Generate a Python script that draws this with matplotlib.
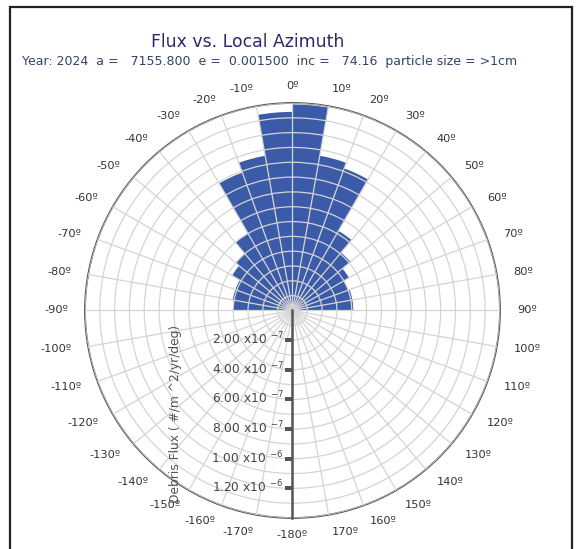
import numpy as np
import matplotlib as mpl
mpl.use('Agg')
from matplotlib import pyplot as plt
from matplotlib import transforms
from matplotlib.patches import Rectangle

# azimuth bins (left edge, deg) and debris flux per bin (#/m^2/yr/deg)
bin_start = [-90, -80, -70, -60, -50, -40, -30, -20, -10,
             0, 10, 20, 30, 40, 50, 60, 70, 80]
flux = [4.0e-7, 4.1e-7, 4.1e-7, 4.7e-7, 5.0e-7, 6.0e-7, 9.9e-7, 10.6e-7, 13.4e-7,
        13.9e-7, 10.6e-7, 10.2e-7, 6.2e-7, 5.1e-7, 4.4e-7, 4.0e-7, 4.1e-7, 4.1e-7]

az_ticks = list(range(-180, 180, 10))
r_ticks = [2e-7, 4e-7, 6e-7, 8e-7, 1e-6, 1.2e-6]
r_tick_labels = ['2.00 x10 $^{-7}$', '4.00 x10 $^{-7}$', '6.00 x10 $^{-7}$',
                 '8.00 x10 $^{-7}$', '1.00 x10 $^{-6}$', '1.20 x10 $^{-6}$']
r_max = 1.4e-6

title = "Flux vs. Local Azimuth"
subtitle = ("Year: 2024  a =   7155.800  e =  0.001500  inc =   74.16  "
            "particle size = >1cm")

BAR_COLOR = '#3b5ba9'
GRID_COLOR = '#d4d4d4'
AXIS_COLOR = '#555555'


def plot_flux_rose():
    fig = plt.figure(figsize=(5.82, 5.49), dpi=100)
    fig.patch.set_facecolor('white')

    # page frame
    fig.add_artist(Rectangle((10 / 582, -0.05), 562 / 582, 1.05 - 7 / 549,
                             transform=fig.transFigure, fill=False,
                             edgecolor='#222222', linewidth=1.6))

    ax = fig.add_axes([0.1460, 0.0565, 0.7131, 0.7559], projection='polar')
    ax.set_theta_zero_location('N')
    ax.set_theta_direction(-1)

    centers = np.deg2rad((np.array(bin_start) + 5) % 360)
    ax.bar(centers, flux, width=np.deg2rad(10), align='center',
           color=BAR_COLOR, edgecolor='none', zorder=1)

    ax.set_xticks(np.deg2rad(np.array(az_ticks) % 360))
    ax.set_xticklabels([])
    ax.set_yticks(np.arange(1, 15) * 1e-7)
    ax.set_yticklabels([])
    ax.set_thetalim(0, 2 * np.pi)
    ax.set_ylim(0, r_max)
    ax.set_axisbelow(False)
    ax.grid(True, color=GRID_COLOR, linewidth=0.9)
    ax.spines['polar'].set_color(AXIS_COLOR)
    ax.spines['polar'].set_linewidth(1.3)

    # azimuth labels just outside the rim
    for a in az_ticks:
        s = np.sin(np.deg2rad(a))
        if abs(s) < 1e-6:
            ha = 'center'
        elif s > 0:
            ha = 'left'
        else:
            ha = 'right'
        ax.text(np.deg2rad(a % 360), r_max * 1.082, f"{a}\u00ba", ha=ha,
                va='center', fontsize=8.2, color='#333333', clip_on=False)

    # radial axis along 180 deg
    ax.plot([np.pi, np.pi], [0, r_max], color=AXIS_COLOR, linewidth=1.8,
            zorder=3, clip_on=False)
    ax.plot([np.pi] * len(r_ticks), r_ticks, linestyle='none',
            marker=[(-1, 0), (0, 0)], markersize=10, markeredgewidth=1.5,
            color=AXIS_COLOR, zorder=3)
    label_tr = transforms.offset_copy(ax.transData, fig=fig, x=-9, y=1,
                                      units='dots')
    for r, lab in zip(r_ticks, r_tick_labels):
        ax.text(np.pi, r, lab, transform=label_tr, ha='right', va='center',
                fontsize=8.8, color='#444444')

    fig.text(175 / 582, 1 - 414 / 549, "Debris Flux ( #/m ^2/yr/deg)",
             rotation=90, ha='center', va='center', fontsize=8.8,
             color='#555555')

    fig.text(248 / 582, 1 - 42 / 549, title, ha='center', va='center',
             fontsize=12.4, color='#2b2b6b')
    fig.text(22 / 582, 1 - 61 / 549, subtitle, ha='left', va='center',
             fontsize=9.0, color='#34426a')
    return fig


def main():
    fig = plot_flux_rose()
    fig.savefig('out.png', dpi=100)


if __name__ == '__main__':
    main()
